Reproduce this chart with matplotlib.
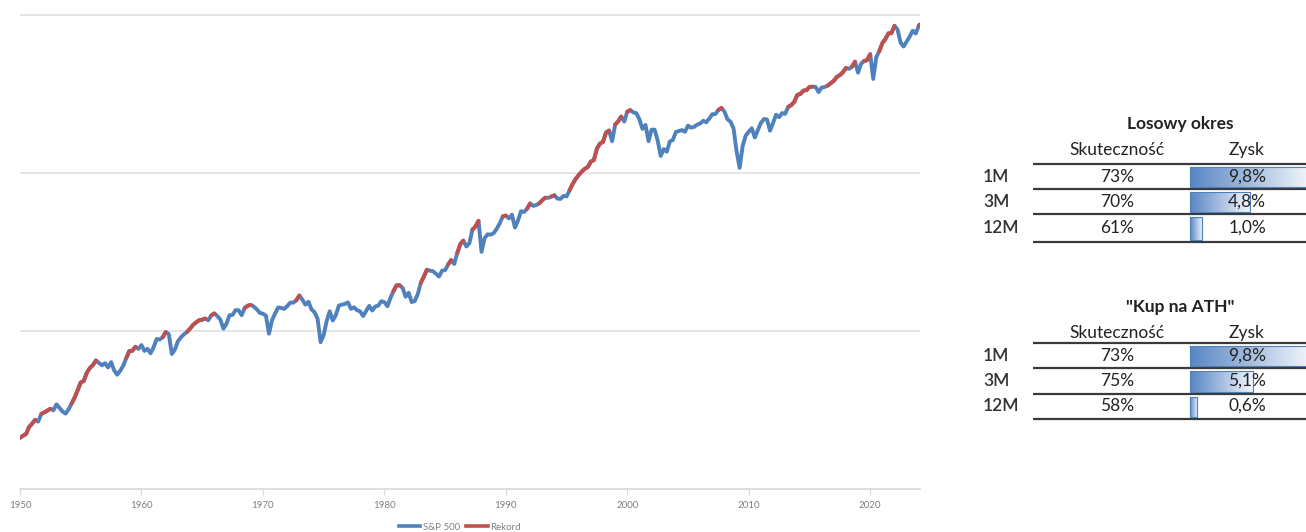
import numpy as np
import matplotlib
matplotlib.use('Agg')
import matplotlib.pyplot as plt
from matplotlib.colors import LinearSegmentedColormap
from matplotlib.lines import Line2D

plt.rcParams['font.family'] = ['Lato', 'DejaVu Sans']

# S&P 500, start value (end 1949) then quarterly readings (crash quarters at their lows)
sp500 = [16.8,
    17.3, 17.7, 19.5, 20.4,   21.5, 21.0, 23.3, 23.8,   24.4, 25.0, 24.5, 26.6,
    25.3, 24.1, 23.4, 24.8,   26.9, 29.2, 32.3, 35.9,   36.6, 41.0, 43.7, 45.5,
    48.5, 46.9, 45.4, 46.7,   44.1, 47.4, 42.4, 39.9,   42.1, 45.2, 50.1, 55.2,
    55.4, 58.5, 56.9, 59.9,   55.3, 56.9, 53.5, 58.1,   65.1, 64.6, 66.7, 71.6,
    69.6, 53.0, 56.3, 63.1,   66.6, 69.4, 71.7, 75.0,   79.0, 81.7, 84.2, 84.8,
    86.2, 84.1, 90.0, 92.4,   89.2, 84.7, 75.0, 80.3,   90.2, 90.6, 96.7, 96.5,
    90.2, 99.6, 102.7, 103.9, 101.5, 97.7, 93.1, 92.1,  89.6, 70.0, 84.2, 92.2,
    100.3, 99.7, 98.3, 102.1, 107.2, 107.1, 110.6, 118.1, 111.5, 104.3, 108.4, 97.6,
    94.0, 86.0, 62.3, 68.6,   83.4, 95.2, 83.9, 90.2,   102.8, 104.3, 105.2, 107.5,
    98.4, 100.5, 96.5, 95.1,  89.2, 95.5, 102.5, 96.1,  101.6, 102.9, 109.3, 107.9,
    102.1, 114.2, 125.5, 135.8, 136.0, 131.2, 116.2, 122.6, 108.0, 109.6, 120.4, 140.6,
    153.0, 168.1, 166.1, 164.9, 159.2, 153.2, 166.1, 167.2, 180.7, 191.9, 182.1, 211.3,
    238.9, 250.8, 231.3, 242.2, 291.7, 304.0, 329.0, 215.0, 258.9, 273.5, 271.9, 277.7,
    294.9, 318.0, 349.2, 353.4, 339.9, 358.0, 300.0, 330.2, 375.2, 371.2, 387.9, 417.1,
    403.7, 408.1, 417.8, 435.7, 451.7, 450.5, 458.9, 466.5, 445.8, 444.3, 462.7, 459.3,
    500.7, 544.8, 584.4, 615.9, 645.5, 670.6, 687.3, 740.7, 757.1, 885.1, 947.3, 970.4,
    1101.8, 1133.8, 980.0, 1229.2, 1286.4, 1372.7, 1282.7, 1469.3, 1498.6, 1454.6, 1436.5, 1320.3,
    1160.3, 1224.4, 980.0, 1148.1, 1147.4, 989.8, 800.0, 879.8, 848.2, 974.5, 996.0, 1111.9,
    1126.2, 1140.8, 1114.6, 1211.9, 1180.6, 1191.3, 1228.8, 1248.3, 1294.9, 1270.2, 1335.9, 1418.3,
    1420.9, 1503.4, 1545.0, 1468.4, 1322.7, 1280.0, 1166.4, 850.0, 680.0, 919.3, 1057.1, 1115.1,
    1169.4, 1030.7, 1141.2, 1257.6, 1325.8, 1320.6, 1131.4, 1257.6, 1408.5, 1362.2, 1440.7, 1426.2,
    1569.2, 1606.3, 1681.6, 1848.4, 1872.3, 1960.2, 1972.3, 2058.9, 2067.9, 2063.1, 1920.0, 2043.9,
    2059.7, 2098.9, 2168.3, 2238.8, 2362.7, 2423.4, 2519.4, 2673.6, 2640.9, 2718.4, 2914.0, 2506.9,
    2834.4, 2941.8, 2976.7, 3230.8, 2300.0, 3100.3, 3363.0, 3756.1, 3972.9, 4297.5, 4307.5, 4766.2,
    4530.4, 3785.4, 3585.6, 3839.5, 4109.3, 4450.4, 4288.1, 4769.8, 4845.7]
sp_dates = 1950 + 0.25 * np.arange(len(sp500))
sp_dates[-1] = 2024.08
sp500 = np.array(sp500)

# all-time-high readings form the "Rekord" series
rekord = np.where(sp500 >= np.maximum.accumulate(sp500), sp500, np.nan)

periods = ['1M', '3M', '12M']
losowy_hit = [73, 70, 61]
losowy_gain = [9.8, 4.8, 1.0]
ath_hit = [73, 75, 58]
ath_gain = [9.8, 5.1, 0.6]

years = [1950, 1960, 1970, 1980, 1990, 2000, 2010, 2020]
grid_levels = [72.7, 633, 5520]

blue = '#4F81BD'
red = '#C0504D'
txt = '#222222'

fig = plt.figure(figsize=(13.06, 5.32), dpi=100)
ax = fig.add_axes([20 / 1306, 1 - 489 / 532, 900 / 1306, 479 / 532])
ax.plot(sp_dates, sp500, color=blue, lw=2.8, solid_capstyle='round', solid_joinstyle='round')
ax.plot(sp_dates, rekord, color=red, lw=2.8, solid_capstyle='round')
ax.set_yscale('log')
ax.set_ylim(8.33, 5916)
ax.set_xlim(1950, 2024.1)
ax.set_yticks(grid_levels)
ax.set_yticks([], minor=True)
ax.set_yticklabels([])
ax.tick_params(axis='y', length=0)
ax.grid(axis='y', color='#e3e3e3', lw=1.3)
ax.set_xticks(years)
ax.set_xticklabels([str(y) for y in years], fontsize=7, color='#7f7f7f')
ax.tick_params(axis='x', length=4, color='#d9d9d9', pad=5)
for s in ['top', 'left', 'right']:
    ax.spines[s].set_visible(False)
ax.spines['bottom'].set_color('#d9d9d9')
ax.spines['bottom'].set_linewidth(1.2)
ax.set_axisbelow(True)

handles = [Line2D([], [], color=blue, lw=2.6), Line2D([], [], color=red, lw=2.6)]
fig.legend(handles, ['S&P 500', 'Rekord'], loc='center', bbox_to_anchor=(460 / 1306, 1 - 527 / 532),
           ncol=2, frameon=False, fontsize=7, labelcolor='#7f7f7f', handlelength=2.2,
           handletextpad=0.3, columnspacing=0.6)

# tables on the right, drawn in pixel units
tx = fig.add_axes([0, 0, 1, 1])
tx.set_facecolor('none')
tx.axis('off')
cmap = LinearSegmentedColormap.from_list('bar', ['#5886C4', '#f4f7fc'])
px_per_pct = 12.4


def draw_table(title, hits, gains, y_title, y_head, y_lines, y_rows):
    tx.text(1180, y_title, title, ha='center', va='center', fontsize=12.5, fontweight='bold', color=txt)
    tx.text(1117, y_head, 'Skuteczność', ha='center', va='center', fontsize=12.5, color=txt)
    tx.text(1247, y_head, 'Zysk', ha='center', va='center', fontsize=12.5, color=txt)
    for yl in y_lines:
        tx.plot([1033, 1306], [yl, yl], color='#3a3a3a', lw=1.6, solid_capstyle='butt')
    for i, (p, h, g) in enumerate(zip(periods, hits, gains)):
        yr = y_rows[i]
        y0, y1 = y_lines[i] + 3, y_lines[i + 1] - 2
        x0, x1 = 1190, 1190 + g * px_per_pct
        grad = np.linspace(0, 1, 256).reshape(1, -1)
        tx.imshow(grad, extent=[x0, x1, y1, y0], cmap=cmap, aspect='auto', zorder=2)
        tx.plot([x0, x1, x1, x0, x0], [y0, y0, y1, y1, y0], color=blue, lw=0.8, zorder=3)
        tx.text(983, yr, p, ha='left', va='center', fontsize=12.5, fontweight='semibold', color='#333333')
        tx.text(1117, yr, f'{h}%', ha='center', va='center', fontsize=12.5, color=txt)
        tx.text(1247, yr, f'{g:.1f}'.replace('.', ',') + '%', ha='center', va='center',
                fontsize=12.5, color=txt, zorder=4)


draw_table('Losowy okres', losowy_hit, losowy_gain, 124, 150,
           [164, 189, 214, 242], [177, 202, 228])
draw_table('"Kup na ATH"', ath_hit, ath_gain, 307, 333,
           [343, 368, 394, 419], [356, 381, 406])

tx.set_xlim(0, 1306)
tx.set_ylim(532, 0)

fig.savefig('out.png', dpi=100)
